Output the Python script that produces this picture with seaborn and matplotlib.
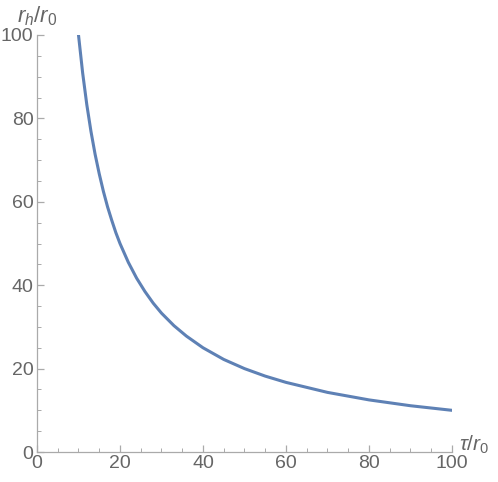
import matplotlib
matplotlib.use("Agg")
import matplotlib.pyplot as plt
from matplotlib.ticker import MultipleLocator
import seaborn as sns
import pandas as pd

# === Values ===
tau = [10, 11, 12, 13, 14, 15, 16, 17, 18, 19, 20, 22, 24, 26, 28, 30, 33, 36, 40,
       45, 50, 55, 60, 70, 80, 90, 100]
r_h = [100, 90.9, 83.3, 76.9, 71.4, 66.7, 62.5, 58.8, 55.6, 52.6, 50, 45.5, 41.7, 38.5,
       35.7, 33.3, 30.3, 27.8, 25, 22.2, 20, 18.2, 16.7, 14.3, 12.5, 11.1, 10]

df = pd.DataFrame({"tau": tau, "r_h": r_h})

sns.set_style("white")
plt.rcParams['font.family'] = ['Liberation Sans', 'DejaVu Sans']
plt.rcParams['mathtext.fontset'] = 'custom'
plt.rcParams['mathtext.it'] = 'Liberation Sans:italic'
plt.rcParams['mathtext.rm'] = 'Liberation Sans'

fig = plt.figure(figsize=(4.98, 4.82), dpi=100)
ax = fig.add_axes([0.0743, 0.0622, 0.8333, 0.8652])

sns.lineplot(data=df, x="tau", y="r_h", ax=ax, color="#5E81B5", linewidth=2.2)

ax.set_xlim(0, 100)
ax.set_ylim(0, 100)
ax.xaxis.set_major_locator(MultipleLocator(20))
ax.xaxis.set_minor_locator(MultipleLocator(5))
ax.yaxis.set_major_locator(MultipleLocator(20))
ax.yaxis.set_minor_locator(MultipleLocator(5))

for s in ["top", "right"]:
    ax.spines[s].set_visible(False)
for s in ["left", "bottom"]:
    ax.spines[s].set_color("#aaaaaa")
    ax.spines[s].set_linewidth(0.9)

ax.tick_params(which="both", direction="in", color="#aaaaaa", labelcolor="#666666",
               labelsize=14, bottom=True, left=True)
ax.tick_params(which="major", length=5, width=0.9, pad=2.5)
ax.tick_params(which="minor", length=3, width=0.7)

ax.set_xlabel("")
ax.set_ylabel("")
fig.text(0.034, 0.967, r"$r_h/r_0$", fontsize=16, color="#666666", ha="left", va="center")
fig.text(0.922, 0.078, r"$\tau/r_0$", fontsize=15, color="#666666", ha="left", va="center")

fig.savefig("out.png", dpi=100)
